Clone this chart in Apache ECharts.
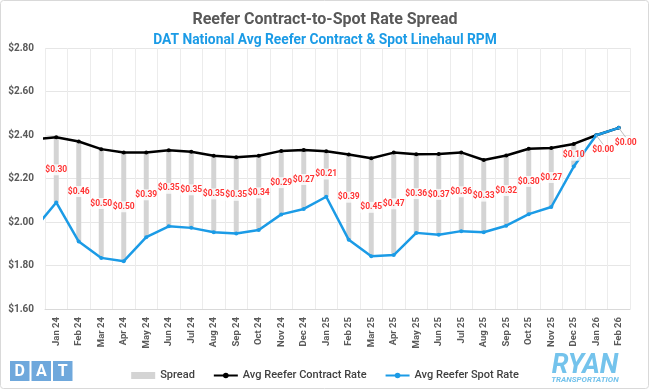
<!DOCTYPE html>
<html>
<head>
<meta charset="utf-8">
<script src="https://cdn.jsdelivr.net/npm/echarts@6/dist/echarts.min.js"></script>
<style>
  html, body { margin: 0; padding: 0; background: #ffffff; }
  #chart { width: 650px; height: 390px; }
</style>
</head>
<body>
<div id="chart"></div>
<script>
// ---- Data ----
const months = ['Jan 24','Feb 24','Mar 24','Apr 24','May 24','Jun 24','Jul 24','Aug 24','Sep 24','Oct 24','Nov 24','Dec 24',
                'Jan 25','Feb 25','Mar 25','Apr 25','May 25','Jun 25','Jul 25','Aug 25','Sep 25','Oct 25','Nov 25','Dec 25',
                'Jan 26','Feb 26'];
const contractRate = [2.390, 2.370, 2.335, 2.320, 2.320, 2.330, 2.323, 2.305, 2.298, 2.305, 2.327, 2.331,
                      2.325, 2.310, 2.293, 2.319, 2.311, 2.313, 2.320, 2.285, 2.306, 2.337, 2.340, 2.359,
                      2.399, 2.433];
const spotRate =     [2.090, 1.910, 1.835, 1.820, 1.930, 1.980, 1.973, 1.953, 1.947, 1.963, 2.035, 2.060,
                      2.116, 1.918, 1.842, 1.848, 1.950, 1.941, 1.958, 1.953, 1.983, 2.036, 2.069, 2.255,
                      2.399, 2.433];
// previous month (Dec 23), only visible as the line entering from the left edge
const priorContract = 2.379;
const priorSpot = 1.965;
const yTicks = { min: 1.6, max: 2.8, step: 0.2 };

// ---- Derived ----
const spread = contractRate.map((c, i) => Math.round((c - spotRate[i]) * 1000) / 1000);
const contractPts = [[-1, priorContract]].concat(contractRate.map((v, i) => [i, v]));
const spotPts = [[-1, priorSpot]].concat(spotRate.map((v, i) => [i, v]));
const labelPts = spread.map((s, i) => [i, (contractRate[i] + spotRate[i]) / 2, s]);

const gray = '#595959';
const chart = echarts.init(document.getElementById('chart'), null, { renderer: 'canvas' });

chart.setOption({
  animation: false,
  backgroundColor: '#ffffff',
  title: [
    { text: 'Reefer Contract-to-Spot Rate Spread', left: 'center', top: 7,
      textStyle: { fontFamily: 'Roboto', fontSize: 16, fontWeight: 'bold', color: gray } },
    { text: 'DAT National Avg Reefer Contract & Spot Linehaul RPM', left: 'center', top: 29,
      textStyle: { fontFamily: 'Roboto', fontSize: 13.8, fontWeight: 'bold', color: '#1b9be6' } }
  ],
  grid: { left: 45, right: 20, top: 48, bottom: 81 },
  legend: {
    top: 365, left: 'center', itemWidth: 24, itemHeight: 7, itemGap: 18,
    textStyle: { fontFamily: 'Roboto', fontSize: 11, fontWeight: 500, color: '#404040' },
    data: [
      { name: 'Spread', icon: 'rect' },
      { name: 'Avg Reefer Contract Rate' },
      { name: 'Avg Reefer Spot Rate' }
    ]
  },
  xAxis: [
    {
      type: 'category', data: months, boundaryGap: true,
      axisLine: { lineStyle: { color: '#d9d9d9' } },
      axisTick: { show: false },
      splitLine: { show: true, lineStyle: { color: '#ececec' } },
      axisLabel: { rotate: 90, interval: 0, margin: 8, fontFamily: 'Roboto', fontSize: 9.5, fontWeight: 'bold', color: gray }
    },
    { type: 'value', min: -0.5, max: 25.5, show: false }
  ],
  yAxis: {
    type: 'value', min: yTicks.min, max: yTicks.max, interval: yTicks.step,
    axisLine: { show: false }, axisTick: { show: false },
    splitLine: { lineStyle: { color: '#e6e6e6' } },
    axisLabel: { margin: 11, fontFamily: 'Roboto', fontSize: 10, fontWeight: 'bold', color: gray,
      formatter: v => '$' + v.toFixed(2) }
  },
  series: [
    {
      name: 'base', type: 'bar', stack: 'sp', xAxisIndex: 0, data: spotRate, barWidth: 5,
      itemStyle: { color: 'rgba(0,0,0,0)' }, silent: true
    },
    {
      name: 'Spread', type: 'bar', stack: 'sp', xAxisIndex: 0, data: spread, barWidth: 5,
      itemStyle: { color: '#d4d4d4' }, z: 3
    },
    {
      name: 'Avg Reefer Contract Rate', type: 'line', xAxisIndex: 1, data: contractPts,
      lineStyle: { color: '#000000', width: 2.5 }, itemStyle: { color: '#000000' },
      symbol: 'circle', symbolSize: 4, showSymbol: true, clip: true, z: 4
    },
    {
      name: 'Avg Reefer Spot Rate', type: 'line', xAxisIndex: 1, data: spotPts,
      lineStyle: { color: '#1b9be6', width: 2.5 }, itemStyle: { color: '#1b9be6' },
      symbol: 'circle', symbolSize: 4, showSymbol: true, clip: true, z: 5
    },
    {
      name: 'spreadLabels', type: 'scatter', xAxisIndex: 1, data: labelPts,
      symbolSize: 0.1, itemStyle: { color: 'rgba(0,0,0,0)' }, silent: true, z: 6,
      label: {
        show: true, position: 'inside', formatter: p => '$' + p.value[2].toFixed(2),
        fontFamily: 'Roboto', fontSize: 8.5, fontWeight: 'bold', color: '#ff0000',
        backgroundColor: '#ffffff', padding: [1, 0]
      },
      labelLine: { show: true, lineStyle: { color: '#bfbfbf', width: 1 } },
      labelLayout: p => (spread[p.dataIndex] < 0.005 ? { dx: 7, dy: 15 } : {})
    }
  ],
  graphic: [
    { type: 'rect', shape: { x: 0.5, y: 0.5, width: 648, height: 388, r: 3 }, style: { fill: 'none', stroke: '#d9d9d9', lineWidth: 1 }, silent: true },
    // DAT logo
    { type: 'rect', shape: { x: 10, y: 361, width: 19.5, height: 20 }, style: { fill: '#6fa8dc' } },
    { type: 'rect', shape: { x: 31.5, y: 361, width: 19.5, height: 20 }, style: { fill: '#6fa8dc' } },
    { type: 'rect', shape: { x: 53, y: 361, width: 19.5, height: 20 }, style: { fill: '#6fa8dc' } },
    { type: 'text', x: 19.75, y: 371.5, style: { text: 'D', fill: '#ffffff', font: 'bold 16px Roboto', align: 'center', verticalAlign: 'middle' } },
    { type: 'text', x: 41.25, y: 371.5, style: { text: 'A', fill: '#ffffff', font: 'bold 16px Roboto', align: 'center', verticalAlign: 'middle' } },
    { type: 'text', x: 62.75, y: 371.5, style: { text: 'T', fill: '#ffffff', font: 'bold 16px Roboto', align: 'center', verticalAlign: 'middle' } },
    // RYAN logo
    { type: 'text', x: 585, y: 366, style: { text: 'RYAN', fill: '#74c3ec', font: 'italic bold 27px Roboto', align: 'center', verticalAlign: 'middle' } },
    { type: 'text', x: 585, y: 380, style: { text: 'TRANSPORTATION', fill: '#74c3ec', font: 'italic bold 8px Roboto', align: 'center', verticalAlign: 'middle' } }
  ]
});
</script>
</body>
</html>
